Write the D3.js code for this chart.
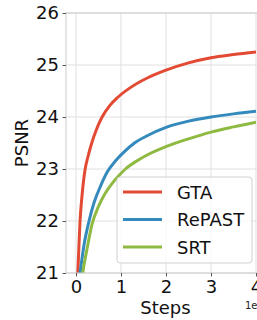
<!DOCTYPE html>
<html><head><meta charset="utf-8">
<script src="https://cdn.jsdelivr.net/npm/d3@7"></script>
<style>body{margin:0;background:#fff;overflow:hidden}svg{display:block;font-family:"DejaVu Sans",sans-serif}</style>
</head><body>
<script>
const seriesNames = ["GTA", "RePAST", "SRT"];
const seriesColors = ["#E24A33", "#348ABD", "#8EBA42"];
const gtaSteps = [0.02,0.04,0.06,0.09,0.13,0.2,0.27,0.35,0.45,0.58,0.75,0.93,1.2,1.56,2.0,2.5,3.0,3.5,4.0];
const gtaPSNR  = [20.6,21.0,21.4,22.0,22.45,22.98,23.25,23.5,23.75,24.0,24.22,24.38,24.56,24.74,24.9,25.04,25.14,25.2,25.25];
const repastSteps = [0.06,0.09,0.18,0.29,0.4,0.55,0.7,0.89,1.07,1.3,1.56,2.0,2.5,3.0,3.5,4.0];
const repastPSNR  = [20.8,21.0,21.55,22.0,22.35,22.68,22.95,23.17,23.33,23.5,23.63,23.8,23.92,24.0,24.06,24.11];
const srtSteps = [0.12,0.15,0.24,0.36,0.5,0.64,0.8,0.96,1.1,1.36,1.56,2.0,2.5,3.0,3.5,4.0];
const srtPSNR  = [20.8,21.0,21.44,21.95,22.28,22.52,22.72,22.88,23.0,23.16,23.26,23.43,23.58,23.71,23.81,23.9];
const xTicks = [0,1,2,3,4];
const yTicks = [21,22,23,24,25,26];
const xLabel = "Steps", yLabel = "PSNR", xOffsetText = "1e6";

const W = 257, H = 320;
const svg = d3.select("body").append("svg").attr("width", W).attr("height", H);
const x = d3.scaleLinear().domain([-0.222, 4.2]).range([66, 265]);
const y = d3.scaleLinear().domain([21, 26]).range([273, 13]);
const [x0, x1] = x.range(), [y0, y1] = y.range();

svg.append("defs").append("clipPath").attr("id","clip").append("rect")
  .attr("x", x0).attr("y", y1).attr("width", x1 - x0).attr("height", y0 - y1);

// grid
const g = svg.append("g");
g.selectAll(".gx").data(xTicks).enter().append("line")
  .attr("x1", d => x(d)).attr("x2", d => x(d)).attr("y1", y1).attr("y2", y0)
  .attr("stroke", "#e0e0e0").attr("stroke-width", 1);
g.selectAll(".gy").data(yTicks).enter().append("line")
  .attr("y1", d => y(d)).attr("y2", d => y(d)).attr("x1", x0).attr("x2", x1)
  .attr("stroke", "#e0e0e0").attr("stroke-width", 1);

// lines
const data = [[gtaSteps, gtaPSNR], [repastSteps, repastPSNR], [srtSteps, srtPSNR]];
const line = d3.line().x(d => x(d[0])).y(d => y(d[1])).curve(d3.curveMonotoneX);
const lg = svg.append("g").attr("clip-path", "url(#clip)");
data.forEach(([s, v], i) => {
  lg.append("path").datum(s.map((d, j) => [d, v[j]]))
    .attr("d", line).attr("fill", "none").attr("stroke", seriesColors[i])
    .attr("stroke-width", 3).attr("stroke-linejoin", "round");
});

// spines
svg.append("rect").attr("x", x0).attr("y", y1).attr("width", x1 - x0).attr("height", y0 - y1)
  .attr("fill", "none").attr("stroke", "#cccccc").attr("stroke-width", 1);

// axes
const xAxis = svg.append("g").attr("transform", `translate(0,${y0})`)
  .call(d3.axisBottom(x).tickValues(xTicks).tickFormat(d3.format("d")).tickSize(3.5).tickPadding(3.5));
const yAxis = svg.append("g").attr("transform", `translate(${x0},0)`)
  .call(d3.axisLeft(y).tickValues(yTicks).tickFormat(d3.format("d")).tickSize(3.5).tickPadding(3.5));
[xAxis, yAxis].forEach(a => {
  a.select(".domain").remove();
  a.selectAll(".tick line").attr("stroke", "#555");
  a.selectAll(".tick text").attr("font-size", 18).attr("fill", "#111").attr("font-family", "DejaVu Sans");
});

svg.append("text").attr("x", (x0 + x1) / 2).attr("y", 314).attr("text-anchor", "middle")
  .attr("font-size", 18).attr("fill", "#111").text(xLabel);
svg.append("text").attr("transform", `translate(28,${(y0 + y1) / 2}) rotate(-90)`).attr("text-anchor", "middle")
  .attr("font-size", 18).attr("fill", "#111").text(yLabel);
svg.append("text").attr("x", 245).attr("y", 309).attr("font-size", 10).attr("fill", "#222").text(xOffsetText);

// legend
const leg = svg.append("g");
leg.append("rect").attr("x", 117).attr("y", 177).attr("width", 135).attr("height", 86).attr("rx", 3)
  .attr("fill", "#fff").attr("fill-opacity", 0.8).attr("stroke", "#d0d0d0");
seriesNames.forEach((n, i) => {
  const yy = 192 + i * 27.5;
  leg.append("line").attr("x1", 123).attr("x2", 162).attr("y1", yy).attr("y2", yy)
    .attr("stroke", seriesColors[i]).attr("stroke-width", 3);
  leg.append("text").attr("x", 177).attr("y", yy + 6.5).attr("font-size", 18).attr("fill", "#111").text(n);
});
</script>
</body></html>
